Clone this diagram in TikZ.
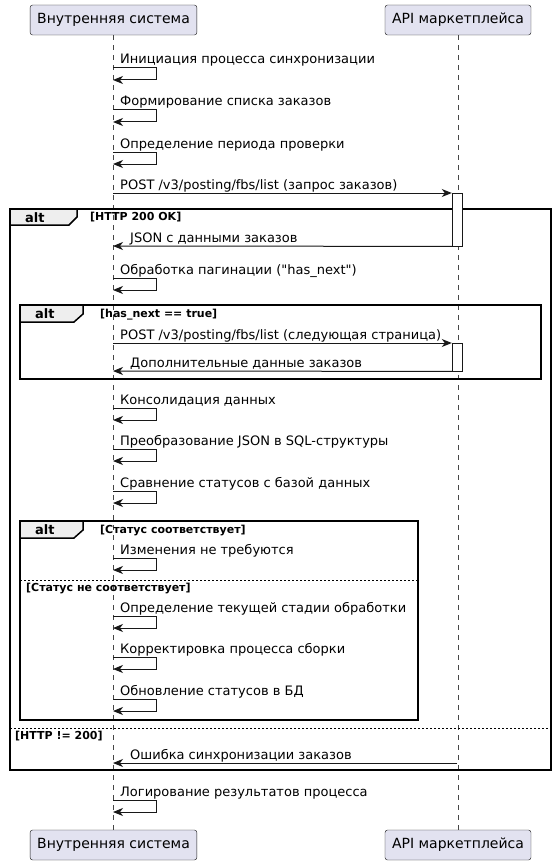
\documentclass[tikz,border=0pt]{standalone}
\usepackage{fontspec}
\setmainfont{DejaVu Sans}
\usetikzlibrary{arrows.meta,positioning}
\definecolor{partfill}{HTML}{E2E2F0}
\definecolor{uml}{HTML}{181818}
\definecolor{tabfill}{HTML}{EEEEEE}
\tikzset
{
    participant/.style = {rectangle, rounded corners=2.5pt, draw=uml, fill=partfill, minimum height=30pt, inner xsep=7pt, font=\fontsize{14}{16}\selectfont},
    lifeline/.style    = {draw=uml!80, dash pattern=on 5pt off 5pt, line width=0.5pt},
    msg/.style         = {anchor=base west, inner sep=0pt, font=\fontsize{13}{15}\selectfont},
    arrow/.style       = {draw=uml, line width=1pt, -{Stealth[length=10pt,width=8pt,inset=3pt]}},
    activation/.style  = {rectangle, draw=uml, fill=white, minimum width=10pt, inner sep=0pt, anchor=north},
    frame/.style       = {draw=black, line width=1.5pt},
    tab/.style         = {draw=black, line width=1.5pt, fill=tabfill},
    opname/.style      = {anchor=base west, inner sep=0pt, font=\bfseries\fontsize{13}{15}\selectfont},
    guard/.style       = {anchor=base west, inner sep=0pt, font=\bfseries\fontsize{11}{13}\selectfont},
    separator/.style   = {draw=black, dash pattern=on 2pt off 2pt, line width=0.8pt}
}

\begin{document}
\begin{tikzpicture}[x=1pt, y=-1pt]
	\useasboundingbox (0,0) rectangle (557,864);

	% participants
	\node (sysTop) [participant] at (113.5,20) {Внутренняя система};
	\node (apiTop) [participant] at (458,20) {API маркетплейса};
	\node (sysBot) [participant] at (113.5,845) {Внутренняя система};
	\node (apiBot) [participant] at (458,845) {API маркетплейса};
	\draw [lifeline] (sysTop.south) -- (sysBot.north);
	\draw [lifeline] (apiTop.south) -- (apiBot.north);

	% alt frames
	\draw [frame] (10,209) rectangle (551,770);
	\draw [tab] (10,209) -- (77,209) -- (77,217) -- (69,225) -- (10,225) -- cycle;
	\node (altA) [opname] at (25,222) {alt};
	\node (grdA) [guard] at (90,220) {[HTTP 200 OK]};
	\draw [separator] (10,728) -- (551,728);
	\node (grdA2) [guard] at (15,739) {[HTTP != 200]};

	\draw [frame] (20,305) rectangle (541,379);
	\draw [tab] (20,305) -- (83,305) -- (83,314) -- (74,322) -- (20,322) -- cycle;
	\node (altB) [opname] at (35,318) {alt};
	\node (grdB) [guard] at (100,317) {[has\_next == true]};

	\draw [frame] (20,521) rectangle (418,720);
	\draw [tab] (20,521) -- (83,521) -- (83,530) -- (74,538) -- (20,538) -- cycle;
	\node (altC) [opname] at (35,534) {alt};
	\node (grdC) [guard] at (100,533) {[Статус соответствует]};
	\draw [separator] (20,580) -- (418,580);
	\node (grdC2) [guard] at (26,591) {[Статус не соответствует]};

	% self messages
	\foreach \nm/\yy/\txt in {init/68/Инициация процесса синхронизации,
	                          form/110/Формирование списка заказов,
	                          period/152/Определение периода проверки,
	                          pages/278/Обработка пагинации (\textquotedbl has\_next\textquotedbl),
	                          merge/408/Консолидация данных,
	                          conv/449/Преобразование JSON в SQL-структуры,
	                          cmp/491/Сравнение статусов с базой данных,
	                          same/558/Изменения не требуются,
	                          stage/616/Определение текущей стадии обработки,
	                          fix/657/Корректировка процесса сборки,
	                          upd/699/Обновление статусов в БД,
	                          log/800/Логирование результатов процесса}
	{
		\coordinate (\nm s) at (113,\yy);
		\coordinate (\nm e) at (113,\yy+12);
		\node (\nm) [msg] at (120,\yy-4) {\txt};
		\draw [arrow] (\nm s) -- ++(43,0) |- (\nm e);
	}

	% requests to the API
	\node (act1) [activation, minimum height=53pt] at (457,193) {};
	\coordinate (postS) at (113,193);
	\node (post) [msg] at (120,189) {POST /v3/posting/fbs/list (запрос заказов)};
	\draw [arrow] (postS) -- (act1.north west);
	\coordinate (jsonE) at (113,246);
	\node (json) [msg] at (130,242) {JSON с данными заказов};
	\draw [arrow] (act1.south west) -- (jsonE);

	\node (act2) [activation, minimum height=28pt] at (457,343) {};
	\coordinate (nextS) at (113,343);
	\node (next) [msg] at (120,339) {POST /v3/posting/fbs/list (следующая страница)};
	\draw [arrow] (nextS) -- (act2.north west);
	\coordinate (moreE) at (113,371);
	\node (more) [msg] at (130,367) {Дополнительные данные заказов};
	\draw [arrow] (act2.south west) -- (moreE);

	\coordinate (errS) at (457,763);
	\coordinate (errE) at (113,763);
	\node (err) [msg] at (130,759) {Ошибка синхронизации заказов};
	\draw [arrow] (errS) -- (errE);
\end{tikzpicture}
\end{document}
